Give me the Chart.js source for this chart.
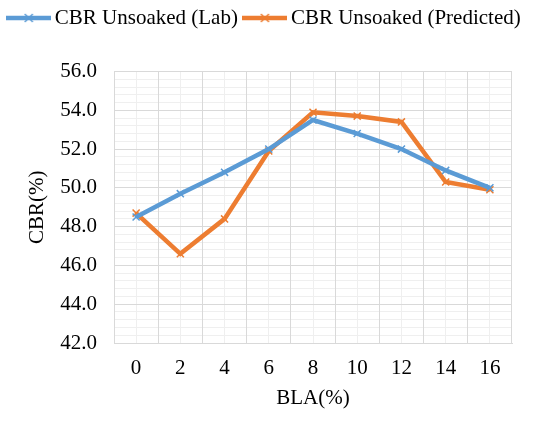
<!DOCTYPE html>
<html>
<head>
<meta charset="utf-8">
<script src="https://cdn.jsdelivr.net/npm/chart.js@4"></script>
<style>
  body { margin: 0; background: #fff; }
  canvas { display: block; }
</style>
</head>
<body>
<canvas id="cbrChart" width="536" height="421"></canvas>
<script>
// values
const blaLabels = ["0", "2", "4", "6", "8", "10", "12", "14", "16"];
const cbrLab = [48.5, 49.7, 50.8, 52.0, 53.5, 52.8, 52.0, 50.9, 50.0];
const cbrPredicted = [48.7, 46.6, 48.4, 51.9, 53.9, 53.7, 53.4, 50.3, 49.9];
const yMin = 42;
const yMax = 56;
const yStep = 2;
const yMinorStep = 0.4;

const blue = "#5B9BD5";
const orange = "#ED7D31";
const serif = "Liberation Serif";

// little line + cross picture for the legend
function legendMark(color) {
  const c = document.createElement("canvas");
  c.width = 45;
  c.height = 14;
  const g = c.getContext("2d");
  g.strokeStyle = color;
  g.lineWidth = 4.5;
  g.beginPath();
  g.moveTo(0, 7);
  g.lineTo(45, 7);
  g.stroke();
  g.lineWidth = 1.5;
  g.beginPath();
  g.moveTo(18.5, 3);
  g.lineTo(26.5, 11);
  g.moveTo(26.5, 3);
  g.lineTo(18.5, 11);
  g.stroke();
  return c;
}

const marks = [legendMark(blue), legendMark(orange)];

function series(label, values, color) {
  return {
    label: label,
    data: values,
    borderColor: color,
    backgroundColor: color,
    borderWidth: 4.5,
    tension: 0,
    pointStyle: "crossRot",
    pointRadius: 5,
    pointBorderWidth: 1.5,
    pointHoverRadius: 5,
    xAxisID: "x",
    yAxisID: "y",
  };
}

new Chart(document.getElementById("cbrChart").getContext("2d"), {
  type: "line",
  data: {
    labels: blaLabels,
    datasets: [
      series("CBR Unsoaked (Lab)", cbrLab, blue),
      series("CBR Unsoaked (Predicted)", cbrPredicted, orange),
    ],
  },
  options: {
    responsive: false,
    animation: false,
    layout: { padding: { top: -4, right: 0, bottom: 0, left: -2 } },
    plugins: {
      tooltip: { enabled: false },
      legend: {
        position: "top",
        labels: {
          font: { family: serif, size: 21 },
          color: "#000",
          usePointStyle: true,
          pointStyleWidth: 31,
          padding: 11.5,
          generateLabels: function (chart) {
            const items = Chart.defaults.plugins.legend.labels.generateLabels(chart);
            items.forEach(function (it, i) { it.pointStyle = marks[i]; });
            return items;
          },
        },
      },
    },
    scales: {
      // empty axes used as spacers and for the light minor grid
      xTop: {
        type: "category",
        position: "top",
        display: true,
        ticks: { display: false },
        border: { display: false },
        grid: { display: false },
        afterFit: function (s) { s.height = 33; },
      },
      xMinor: {
        type: "category",
        position: "bottom",
        offset: true,
        ticks: { display: false },
        border: { display: false },
        grid: { offset: false, color: "#efefef", drawTicks: false, z: -2 },
        afterFit: function (s) { s.height = 0; },
      },
      yMinor: {
        position: "right",
        min: yMin,
        max: yMax,
        ticks: { display: false, stepSize: yMinorStep },
        border: { display: false },
        grid: { color: "#efefef", drawTicks: false, z: -2 },
        afterFit: function (s) { s.width = 24; },
      },
      x: {
        type: "category",
        position: "bottom",
        offset: true,
        grid: { offset: true, color: "#d9d9d9", drawTicks: false, z: -1 },
        border: { color: "#d9d9d9" },
        ticks: { font: { family: serif, size: 21 }, color: "#000", padding: 13, maxRotation: 0 },
        title: {
          display: true,
          text: "BLA(%)",
          font: { family: serif, size: 21 },
          color: "#000",
          padding: { top: 10, bottom: 10 },
        },
        afterFit: function (s) { s.height = 78; },
      },
      y: {
        position: "left",
        min: yMin,
        max: yMax,
        grid: { color: "#d9d9d9", drawTicks: false, z: -1 },
        border: { color: "#d9d9d9" },
        ticks: {
          stepSize: yStep,
          font: { family: serif, size: 21 },
          color: "#000",
          padding: 17,
          callback: function (v) { return v.toFixed(1); },
        },
        title: {
          display: true,
          text: "CBR(%)",
          font: { family: serif, size: 21 },
          color: "#000",
          padding: { top: 27, bottom: 27 },
        },
        afterFit: function (s) { s.width = 116; },
      },
    },
  },
});
</script>
</body>
</html>
